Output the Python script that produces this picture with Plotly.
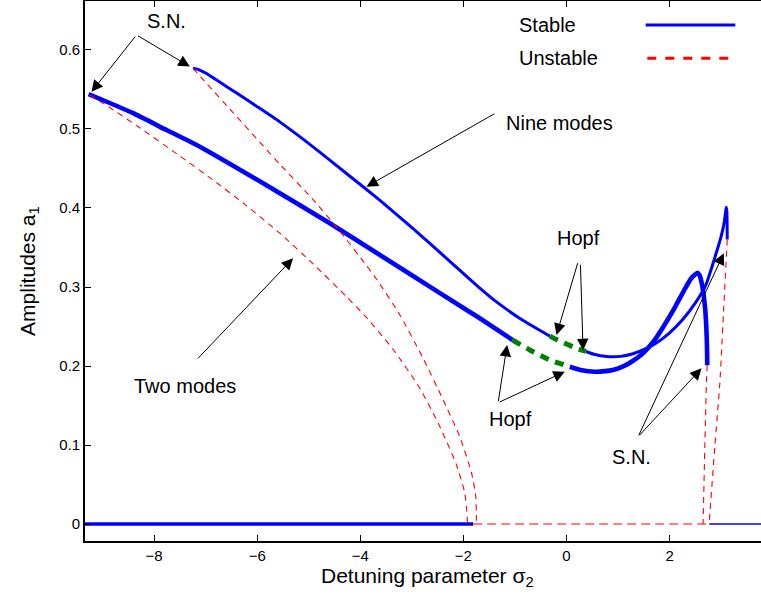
import plotly.graph_objects as go

# ---- two-mode solution (thick) ----
two_stable_x = [-9.27, -8.86, -8.407, -7.759, -7.113, -5.852, -4.591, -3.137, -1.876, -1.682, -1.047]
two_stable_y = [0.544, 0.5329, 0.520, 0.4987, 0.4776, 0.430, 0.3806, 0.3205, 0.2684, 0.2604, 0.2329]

two_hopf_x = [-1.047, -0.712, -0.323, 0.064]
two_hopf_y = [0.2329, 0.2203, 0.2076, 0.199]

two_stable2_x = [0.064, 0.3, 0.55, 0.75, 0.9, 1.1, 1.3, 1.5, 1.7, 1.9, 2.1, 2.3, 2.42, 2.5, 2.54,
                 2.58, 2.62, 2.66, 2.69, 2.71, 2.722, 2.728, 2.73]
two_stable2_y = [0.199, 0.1945, 0.1928, 0.1935, 0.195, 0.1995, 0.207, 0.217, 0.232, 0.252, 0.274,
                 0.298, 0.311, 0.316, 0.318, 0.315, 0.306, 0.290, 0.272, 0.252, 0.232, 0.215, 0.201]

two_unstable_x = [-9.247, -8.859, -8.277, -7.501, -6.855, -6.208, -5.562, -4.916, -4.268, -3.880,
                  -3.364, -2.846, -2.458, -2.134, -1.973, -1.935, -1.920]
two_unstable_y = [0.543, 0.5271, 0.5015, 0.4658, 0.4354, 0.4030, 0.3681, 0.3293, 0.2878, 0.2614,
                  0.2212, 0.1720, 0.1235, 0.0749, 0.0395, 0.0167, 0.0]

two_unstable_right_x = [2.73, 2.716, 2.683, 2.65]
two_unstable_right_y = [0.201, 0.182, 0.098, 0.0]

# ---- nine-mode solution (thin) ----
nine_stable_x = [-7.243, -7.15, -7.0, -6.8, -6.4, -6.0, -5.562, -4.916, -4.268, -3.624, -2.976,
                 -2.328, -1.682, -1.39, -0.842, -0.323]
nine_stable_y = [0.577, 0.5755, 0.5708, 0.5625, 0.5455, 0.5283, 0.509, 0.4774, 0.4437, 0.4099,
                 0.3739, 0.3363, 0.2985, 0.2827, 0.2575, 0.2378]

nine_hopf_x = [-0.323, -0.194, 0.194, 0.38]
nine_hopf_y = [0.2378, 0.2334, 0.2225, 0.2184]

nine_stable2_x = [0.38, 0.55, 0.776, 1.05, 1.29, 1.55, 1.75, 2.0, 2.25, 2.5, 2.7, 2.9, 3.0, 3.06,
                  3.09, 3.1, 3.11, 3.116, 3.118]
nine_stable2_y = [0.2184, 0.2145, 0.212, 0.2122, 0.2155, 0.2222, 0.2294, 0.242, 0.2585, 0.2798,
                  0.302, 0.342, 0.364, 0.382, 0.397, 0.401, 0.396, 0.380, 0.360]

nine_unstable_x = [-7.243, -6.983, -6.468, -5.562, -4.916, -4.400, -3.880, -3.686, -3.234, -2.782,
                   -2.394, -2.070, -1.843, -1.760, -1.750, -1.746]
nine_unstable_y = [0.5768, 0.5578, 0.5207, 0.4555, 0.4106, 0.3709, 0.3272, 0.3101, 0.2649, 0.2098,
                   0.1574, 0.1104, 0.065, 0.036, 0.015, 0.0]

nine_unstable_right_x = [3.118, 3.05, 2.974, 2.877, 2.766]
nine_unstable_right_y = [0.360, 0.274, 0.178, 0.098, 0.0]

# ---- trivial solution ----
zero_stable_left_x = [-9.35, -1.81]
zero_unstable_x = [-1.81, 2.77]
zero_stable_right_x = [2.77, 3.8]

BLUE = "rgb(0,0,255)"
RED = "rgb(255,0,0)"
GREEN = "rgb(0,128,0)"
FONT = "Liberation Sans, Arial, Helvetica, sans-serif"

fig = go.Figure()


def add_line(x, y, color, width, dash="solid", shape="spline"):
    fig.add_trace(go.Scatter(
        x=x, y=y, mode="lines", showlegend=False, hoverinfo="skip",
        line=dict(color=color, width=width, dash=dash, shape=shape, smoothing=0.5),
    ))


# stable branches
add_line(zero_stable_left_x, [0, 0], BLUE, 3.3, shape="linear")
add_line(zero_stable_right_x, [0, 0], BLUE, 1.5, shape="linear")
add_line(two_stable_x, two_stable_y, BLUE, 4.6)
add_line(two_stable2_x, two_stable2_y, BLUE, 4.6)
add_line(nine_stable_x, nine_stable_y, BLUE, 3)
add_line(nine_stable2_x, nine_stable2_y, BLUE, 3)

# unstable branches
DASH = "6px,5px"
add_line(two_unstable_x, two_unstable_y, RED, 1.1, DASH)
add_line(nine_unstable_x, nine_unstable_y, RED, 1.1, DASH)
add_line(two_unstable_right_x, two_unstable_right_y, RED, 1.1, DASH)
add_line(nine_unstable_right_x, nine_unstable_right_y, RED, 1.1, DASH)
add_line(zero_unstable_x, [0, 0], RED, 1.1, "9px,5px", shape="linear")

# Hopf-unstable segments
add_line(two_hopf_x, two_hopf_y, GREEN, 5, "9px,7px")
add_line(nine_hopf_x, nine_hopf_y, GREEN, 5, "9px,7px")

# ---- labels and arrows ----
labels = [
    ("S.N.", -7.757, 0.637),
    ("Nine modes", -0.13, 0.507),
    ("Two modes", -7.404, 0.175),
    ("Hopf", 0.229, 0.362),
    ("Hopf", -1.08, 0.133),
    ("S.N.", 1.263, 0.085),
]
arrows = [  # (head x, head y, tail x, tail y)
    (-9.214, 0.547, -8.341, 0.619),
    (-7.307, 0.579, -8.341, 0.619),
    (-3.880, 0.427, -1.371, 0.5203),
    (-5.304, 0.3363, -7.178, 0.2076),
    (-0.194, 0.2392, 0.225, 0.332),
    (0.322, 0.220, 0.27, 0.330),
    (-1.152, 0.2266, -1.327, 0.1535),
    (-0.033, 0.1928, -1.327, 0.1535),
    (2.619, 0.197, 1.389, 0.1105),
    (3.051, 0.3427, 1.389, 0.1105),
]

annotations = []
for text, x, y in labels:
    annotations.append(dict(x=x, y=y, xref="x", yref="y", text=text, showarrow=False,
                            font=dict(family=FONT, size=20, color="black"),
                            xanchor="center", yanchor="middle"))
for hx, hy, tx, ty in arrows:
    annotations.append(dict(x=hx, y=hy, ax=tx, ay=ty, xref="x", yref="y", axref="x", ayref="y",
                            text="", showarrow=True, arrowhead=2, arrowsize=2.3, arrowwidth=1,
                            arrowcolor="black"))

# legend entries
for text, py in [("Stable", 0.9556), ("Unstable", 0.8939)]:
    annotations.append(dict(x=0.639, y=py, xref="paper", yref="paper", text=text, showarrow=False,
                            font=dict(family=FONT, size=20, color="black"),
                            xanchor="left", yanchor="middle"))

# axis titles
annotations.append(dict(x=0.506, y=-0.066, xref="paper", yref="paper",
                        text="Detuning parameter σ<sub>2</sub>", showarrow=False,
                        font=dict(family=FONT, size=21, color="black"),
                        xanchor="center", yanchor="middle"))
annotations.append(dict(x=-0.083, y=0.5, xref="paper", yref="paper",
                        text="Amplitudes a<sub>1</sub>", showarrow=False, textangle=-90,
                        font=dict(family=FONT, size=21, color="black"),
                        xanchor="center", yanchor="middle"))

shapes = [
    dict(type="line", xref="paper", yref="paper", x0=0.8294, x1=0.962, y0=0.9556, y1=0.9556,
         line=dict(color=BLUE, width=3)),
    dict(type="line", xref="paper", yref="paper", x0=0.8318, x1=0.954, y0=0.8939, y1=0.8939,
         line=dict(color=RED, width=3, dash="9px,9px")),
]

fig.update_layout(
    width=761, height=599, autosize=False,
    margin=dict(l=85, r=0, t=1, b=58, pad=0),
    paper_bgcolor="white", plot_bgcolor="white",
    font=dict(family=FONT, size=15, color="black"),
    annotations=annotations, shapes=shapes,
    xaxis=dict(range=[-9.34, 3.773], tickvals=[-8, -6, -4, -2, 0, 2],
               ticks="inside", ticklen=6, tickwidth=1, tickcolor="black",
               showline=True, linecolor="black", linewidth=1.6, mirror="ticks",
               showgrid=False, zeroline=False, tickfont=dict(size=15)),
    yaxis=dict(range=[-0.0215, 0.662], tickvals=[0, 0.1, 0.2, 0.3, 0.4, 0.5, 0.6],
               ticktext=["0", "0.1", "0.2", "0.3", "0.4", "0.5", "0.6"],
               ticks="inside", ticklen=6, tickwidth=1, tickcolor="black",
               showline=True, linecolor="black", linewidth=1.6, mirror=False,
               showgrid=False, zeroline=False, tickfont=dict(size=15)),
)

fig.write_html("out.html")
